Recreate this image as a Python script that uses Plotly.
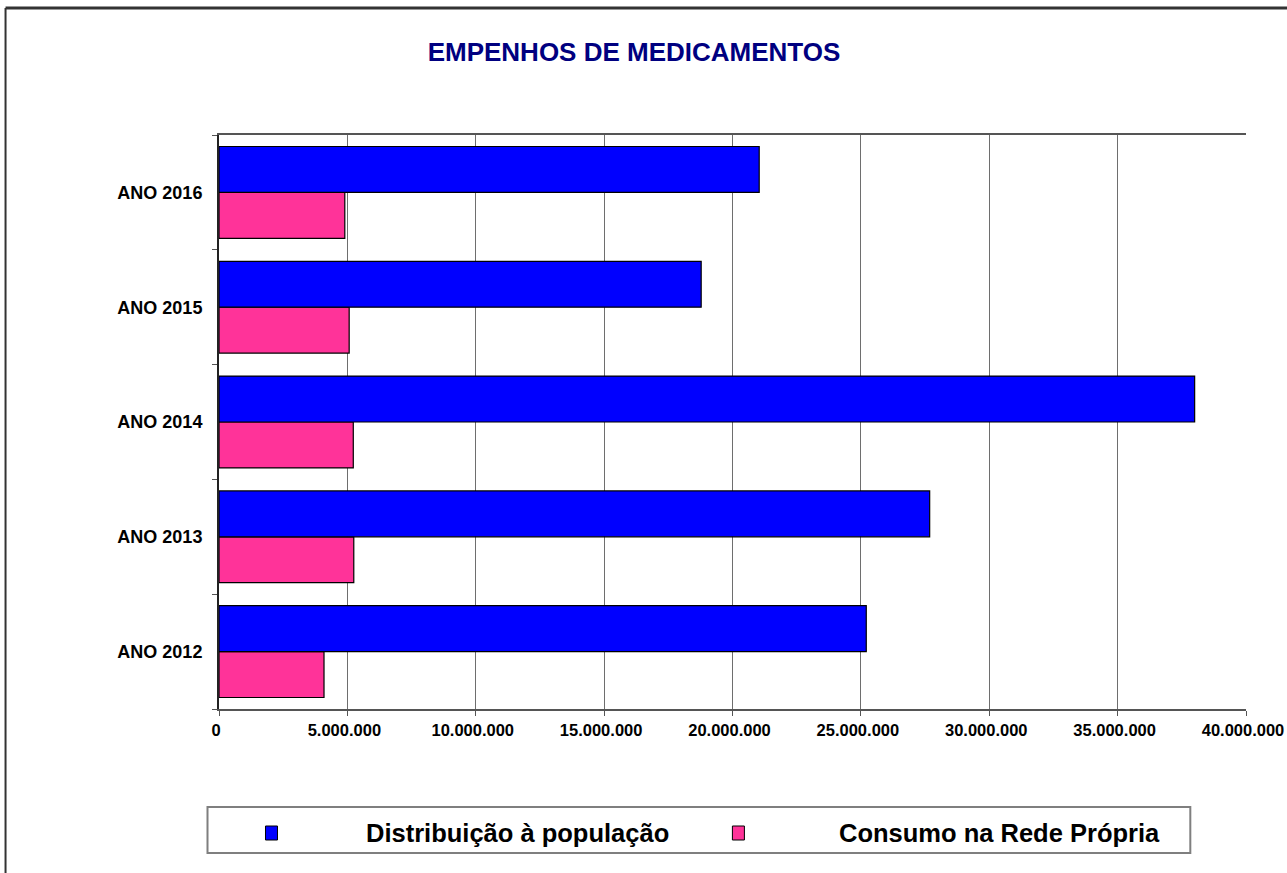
import plotly.graph_objects as go

# data
categories = ["ANO 2012", "ANO 2013", "ANO 2014", "ANO 2015", "ANO 2016"]
distribuicao = [25_210_000, 27_680_000, 38_000_000, 18_780_000, 21_040_000]
consumo = [4_090_000, 5_250_000, 5_230_000, 5_070_000, 4_900_000]
series_names = ["Distribuição à população", "Consumo na Rede Própria"]
title_text = "EMPENHOS DE MEDICAMENTOS"

BLUE = "#0000FF"
PINK = "#FF3399"
FONT = "Liberation Sans, Arial, sans-serif"

W, H = 1287, 873
# plot area in pixels
PL, PR, PT, PB = 218.5, 1245.7, 135, 709
PW, PH = PR - PL, PB - PT


def px_x(px):
    return (px - PL) / PW


def px_y(py):
    return (PB - py) / PH


fig = go.Figure()
# pink first so it sits under the blue bar inside each group
fig.add_trace(
    go.Bar(
        y=categories,
        x=consumo,
        orientation="h",
        name=series_names[1],
        marker=dict(color=PINK, line=dict(color="#000000", width=1.2)),
        showlegend=False,
    )
)
fig.add_trace(
    go.Bar(
        y=categories,
        x=distribuicao,
        orientation="h",
        name=series_names[0],
        marker=dict(color=BLUE, line=dict(color="#000000", width=1.2)),
        showlegend=False,
    )
)

shapes = [
    # outer frame (top and left edges visible)
    dict(type="line", xref="paper", yref="paper",
         x0=px_x(5), x1=px_x(1300), y0=px_y(8), y1=px_y(8),
         line=dict(color="#333333", width=3)),
    dict(type="line", xref="paper", yref="paper",
         x0=px_x(5), x1=px_x(5), y0=px_y(8), y1=px_y(880),
         line=dict(color="#333333", width=2)),
    # legend box
    dict(type="rect", xref="paper", yref="paper",
         x0=px_x(207), x1=px_x(1190), y0=px_y(807), y1=px_y(853),
         line=dict(color="#7f7f7f", width=2), fillcolor="white"),
    # legend swatches
    dict(type="rect", xref="paper", yref="paper",
         x0=px_x(265), x1=px_x(277), y0=px_y(826), y1=px_y(840),
         line=dict(color="#000000", width=1), fillcolor=BLUE),
    dict(type="rect", xref="paper", yref="paper",
         x0=px_x(732), x1=px_x(744), y0=px_y(826), y1=px_y(840),
         line=dict(color="#000000", width=1), fillcolor=PINK),
]

legend_font = dict(family=FONT, size=25.5, color="black", weight="bold")
annotations = [
    dict(text=series_names[0], xref="paper", yref="paper",
         x=px_x(364), y=px_y(833), xanchor="left", yanchor="middle",
         showarrow=False, font=legend_font),
    dict(text=series_names[1], xref="paper", yref="paper",
         x=px_x(837), y=px_y(833), xanchor="left", yanchor="middle",
         showarrow=False, font=legend_font),
]

fig.update_layout(
    width=W,
    height=H,
    margin=dict(l=PL, r=W - PR, t=PT, b=H - PB, pad=0, autoexpand=False),
    paper_bgcolor="white",
    plot_bgcolor="white",
    barmode="group",
    bargap=0.2,
    bargroupgap=0,
    separators=",.",
    title=dict(
        text=title_text,
        x=634 / W,
        xanchor="center",
        y=1 - 52 / H,
        yanchor="middle",
        font=dict(family=FONT, size=26, color="#000080", weight="bold"),
    ),
    shapes=shapes,
    annotations=annotations,
    showlegend=False,
)

fig.update_xaxes(
    range=[0, 40_000_000],
    dtick=5_000_000,
    tickformat=",d",
    automargin=False,
    showgrid=True,
    gridcolor="#6e6e6e",
    gridwidth=1,
    zeroline=False,
    showline=True,
    linecolor="#555555",
    linewidth=1.5,
    mirror=True,
    ticks="outside",
    ticklen=5,
    tickcolor="#555555",
    ticklabeloverflow="allow",
    ticklabelshift=-3,
    tickfont=dict(family=FONT, size=16.5, color="black", weight="bold"),
)
fig.update_yaxes(
    categoryorder="array",
    categoryarray=categories,
    automargin=False,
    showgrid=False,
    showline=True,
    linecolor="#222222",
    linewidth=2,
    ticks="outside",
    tickson="boundaries",
    ticklen=5,
    tickcolor="#555555",
    ticklabelstandoff=11,
    tickfont=dict(family=FONT, size=18, color="black", weight="bold"),
)

# drop the default page margin so the figure sits at the window's top-left
fig.write_html(
    "out.html",
    config={"displayModeBar": False},
    post_script="document.body.style.margin='0';document.body.style.overflow='hidden';",
)
